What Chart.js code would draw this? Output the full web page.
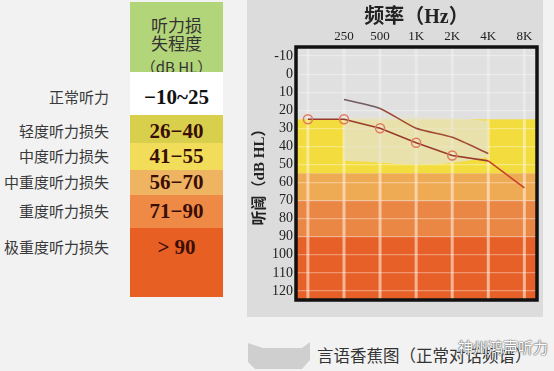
<!DOCTYPE html>
<html>
<head>
<meta charset="utf-8">
<script src="https://cdn.jsdelivr.net/npm/chart.js@4.4.1/dist/chart.umd.min.js"></script>
<style>
  html, body { margin: 0; padding: 0; }
  body { width: 554px; height: 371px; background: #f2f2f2; position: relative; overflow: hidden;
         font-family: "Noto Sans CJK SC", sans-serif; }
  .abs { position: absolute; }
  #panel { left: 247px; top: 0; width: 296px; height: 317px; background: #dcdcdc; }
  .cell { left: 130px; width: 93px; }
  .name { font-size: 15px; color: #3a3a3a; white-space: nowrap; line-height: 20px; }
  .range { left: 130px; width: 93px; text-align: center; font: bold 21px "Liberation Serif", serif;
           color: #3a0e06; line-height: 24px; }
  #head { left: 130px; top: 2px; width: 93px; height: 70px; background: #b3d57a;
          text-align: center; color: #333; font-size: 17px; line-height: 17px; }
  #ribbon { left: 248px; top: 342px; width: 62px; height: 27px; background: #cfcfcf;
            clip-path: polygon(0 1px, 15px 6px, 54px 6px, 62px 0, 62px 18px, 54px 27px, 7px 27px, 0 20px); }
  #caption { left: 317px; top: 344px; font-size: 16.5px; color: #333; line-height: 22px; white-space: nowrap; }
  #mark { left: 458px; top: 336px; font-size: 15px; color: #fff; text-shadow: 0 0 1px #555, 0 0 1px #555, 0 0 2px #888; white-space: nowrap; }
</style>
</head>
<body>
<div id="head" class="abs">
  <div style="margin-top:14px">听力损</div>
  <div style="margin-top:1px">失程度</div>
  <div style="margin-top:7px;font-size:15px">（dB HL）</div>
</div>
<div id="rows"></div>
<div id="panel" class="abs"><canvas id="chart" width="296" height="317"></canvas></div>
<div id="ribbon" class="abs"></div>
<div id="caption" class="abs">言语香蕉图（正常对话频谱）</div>
<div id="mark" class="abs">神州鸿声听力</div>
<script>
// hearing loss grades (left table)
var gradeNames = ["正常听力", "轻度听力损失", "中度听力损失", "中重度听力损失", "重度听力损失", "极重度听力损失"];
var gradeRanges = ["−10~25", "26−40", "41−55", "56−70", "71−90", "> 90"];

// audiogram
var freqLabels = ["", "250", "500", "1K", "2K", "4K", "8K"];
var freqIndex = [0, 1, 2, 3, 4, 5, 6];
var lowerThreshold = [25, 25, 30, 38, 45, 48, 63];
var upperThreshold = [null, 14, 19, 30, 35, 44, null];
var bananaTop = [null, 24, 23, 23, 24, 26, null];
var bananaBottom = [null, 48, 49, 50, 49, 46, null];
var yTickValues = [-10, 0, 10, 20, 30, 40, 50, 60, 70, 80, 90, 100, 110, 120];
var bandEdges = [-15, 25, 55, 70, 90, 125];

// layout of the table
var rowBoxes = [[72, 115], [115, 143], [143, 170], [170, 195], [195, 228], [228, 297]];
var rowText = [97, 131, 156, 182, 211, 247];
var rowColors = ["#ffffff", "#d8d04c", "#f1dd5a", "#efb462", "#ee8946", "#e85f23"];
var bandColors = ["#e0e0e0", "#f3dc3e", "#efaa54", "#eb8744", "#e76027"];
var bandLineColors = ["rgba(255,255,255,0.3)", "rgba(255,245,215,0.55)", "rgba(255,236,222,0.6)", "rgba(255,236,222,0.6)", "rgba(255,236,222,0.6)"];

var rows = document.getElementById('rows');
gradeNames.forEach(function (n, i) {
  var box = document.createElement('div');
  box.className = 'abs cell';
  box.style.top = rowBoxes[i][0] + 'px';
  box.style.height = (rowBoxes[i][1] - rowBoxes[i][0]) + 'px';
  box.style.background = rowColors[i];
  rows.appendChild(box);

  var r = document.createElement('div');
  r.className = 'abs range';
  r.style.top = (rowText[i] - 12) + 'px';
  if (i === 0) r.style.color = '#111';
  r.textContent = gradeRanges[i];
  rows.appendChild(r);

  var t = document.createElement('div');
  t.className = 'abs name';
  t.style.right = (554 - 109) + 'px';
  t.style.top = (rowText[i] - 10) + 'px';
  t.textContent = n;
  rows.appendChild(t);
});

function pts(arr) {
  return freqIndex.map(function (x, i) { return { x: x, y: arr[i] }; });
}

var serif = '"Liberation Serif", "Noto Sans CJK SC", serif';

var bands = {
  id: 'bands',
  beforeDraw: function (chart) {
    var c = chart.ctx, a = chart.chartArea, x = chart.scales.x, y = chart.scales.y;
    c.save();
    for (var i = 0; i < bandColors.length; i++) {
      var y1 = y.getPixelForValue(bandEdges[i]);
      var y2 = y.getPixelForValue(bandEdges[i + 1]);
      c.fillStyle = bandColors[i];
      c.fillRect(a.left, y1, a.right - a.left, y2 - y1);
      c.strokeStyle = bandLineColors[i];
      c.lineWidth = 3;
      freqIndex.forEach(function (f) {
        var px = x.getPixelForValue(f);
        c.beginPath();
        c.moveTo(px, y1);
        c.lineTo(px, y2);
        c.stroke();
      });
    }
    c.restore();
  },
  afterDraw: function (chart) {
    var c = chart.ctx, a = chart.chartArea;
    c.save();
    c.strokeStyle = '#111';
    c.lineWidth = 3.5;
    c.strokeRect(a.left, a.top, a.right - a.left, a.bottom - a.top);
    c.restore();
  }
};

new Chart('chart', {
  type: 'line',
  data: {
    datasets: [
      {
        data: pts(lowerThreshold),
        borderColor: '#983a2c',
        borderWidth: 1.6,
        pointRadius: function (ctx) { return ctx.dataIndex < 5 ? 4.5 : 0; },
        pointBorderColor: '#e07a5c',
        pointBorderWidth: 1.5,
        pointBackgroundColor: 'rgba(0,0,0,0)',
        segment: { borderColor: function (ctx) { return ctx.p0DataIndex === 5 ? '#c9432b' : undefined; } },
        fill: false
      },
      {
        data: pts(upperThreshold),
        borderColor: '#a24a36',
        borderWidth: 1.6,
        pointRadius: 0,
        tension: 0.2,
        segment: { borderColor: function (ctx) { return ctx.p0DataIndex === 1 ? '#6e5c62' : undefined; } },
        fill: false
      },
      {
        data: pts(bananaTop),
        borderWidth: 0,
        pointRadius: 0,
        tension: 0.4,
        fill: false
      },
      {
        data: pts(bananaBottom),
        borderWidth: 0,
        pointRadius: 0,
        tension: 0.4,
        fill: { target: '-1' },
        backgroundColor: 'rgba(230,227,210,0.75)'
      }
    ]
  },
  options: {
    responsive: false,
    animation: false,
    layout: { padding: { left: 0, top: 0, right: 3, bottom: 17 } },
    plugins: { legend: { display: false }, tooltip: { enabled: false } },
    scales: {
      x: {
        type: 'linear',
        position: 'top',
        min: -0.33,
        max: 6.35,
        afterBuildTicks: function (s) { s.ticks = freqIndex.map(function (v) { return { value: v }; }); },
        afterFit: function (s) { s.height = 47; },
        ticks: {
          callback: function (v) { return freqLabels[v]; },
          font: { family: serif, size: 13 },
          color: '#222',
          padding: 3,
          maxRotation: 0
        },
        grid: { display: false, drawTicks: false },
        border: { display: false },
        title: {
          display: true,
          text: '频率（Hz）',
          font: { family: serif, size: 20, weight: 'bold' },
          color: '#222',
          padding: { top: 6, bottom: 0 }
        }
      },
      y: {
        type: 'linear',
        reverse: true,
        min: -15,
        max: 125,
        afterBuildTicks: function (s) { s.ticks = yTickValues.map(function (v) { return { value: v }; }); },
        afterFit: function (s) { s.width = 49; },
        ticks: {
          font: { family: serif, size: 14 },
          color: '#222',
          padding: 3,
          autoSkip: false
        },
        grid: { color: 'rgba(255,255,255,0.35)', lineWidth: 1.2, drawTicks: false },
        border: { display: false },
        title: {
          display: true,
          text: '听阈（dB HL）',
          font: { family: serif, size: 15, weight: 'bold' },
          color: '#222',
          padding: { top: 4, bottom: 0 }
        }
      }
    }
  },
  plugins: [bands]
});
</script>
</body>
</html>
